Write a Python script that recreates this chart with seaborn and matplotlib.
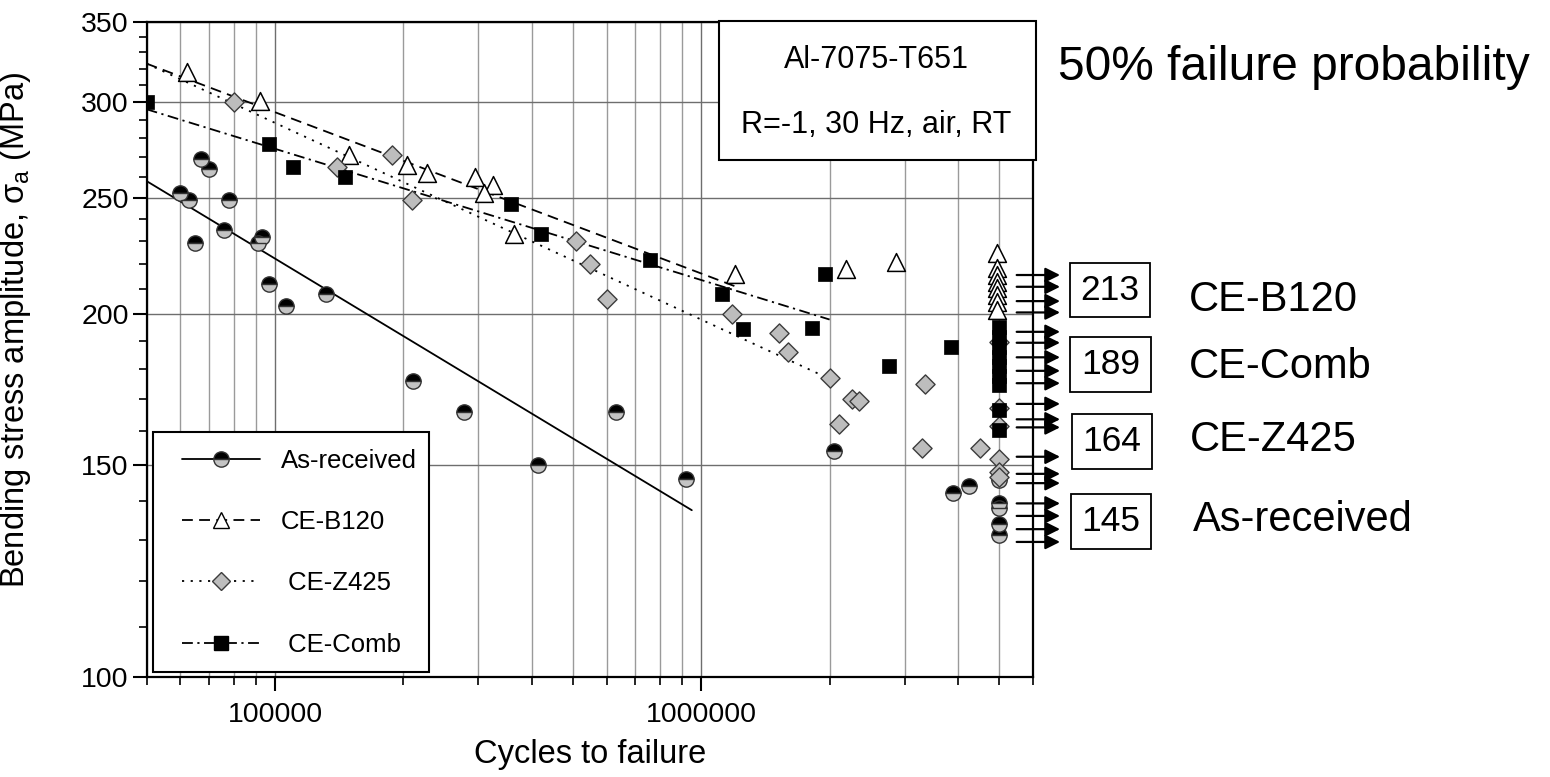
import matplotlib
matplotlib.use('Agg')
import matplotlib.pyplot as plt
import matplotlib.ticker as mticker
import matplotlib.transforms as mtransforms
from matplotlib.lines import Line2D
from matplotlib.patches import Rectangle
import seaborn as sns

# S-N data (cycles to failure, stress amplitude in MPa); runouts sit at 5e6
ar_n = [60000, 63000, 67000, 70000, 65000, 78000, 76000, 93000, 91000, 97000, 106000,
        132000, 211000, 277000, 414000, 632000, 923000, 2050000, 3900000, 4250000,
        5000000, 5000000, 5000000, 5000000, 5000000]
ar_s = [252, 249, 269, 264, 229, 249, 235, 232, 229, 212, 203,
        208, 176, 166, 150, 166, 146, 154, 142, 144,
        145.7, 139.3, 138, 133.9, 131.1]

b120_n = [62000, 92000, 149000, 204000, 227000, 294000, 325000, 310000, 364000,
          1200000, 2180000, 2860000, 4950000,
          4950000, 4950000, 4950000, 4950000, 4950000, 4950000, 4950000]
b120_s = [318, 301, 271, 266, 262, 260, 256, 252, 233,
          216, 218, 221, 225,
          218.5, 215.6, 212.7, 210.3, 207.5, 204.7, 201.6]

z425_n = [80000, 140000, 188000, 210000, 509000, 549000, 600000, 1180000, 1520000,
          1600000, 2000000, 2260000, 2340000, 2100000, 3350000, 3300000, 4500000,
          5000000, 5000000, 5000000, 5000000, 5000000, 5000000]
z425_s = [300, 265, 271, 249, 230, 220, 206, 200, 193,
          186, 177, 170, 169.5, 162, 175, 155, 155,
          189.7, 167.2, 161.5, 151.6, 147.9, 146.5]

comb_n = [50000, 97000, 110000, 146000, 357000, 420000, 760000, 1120000, 1250000,
          1820000, 1950000, 2750000, 3860000,
          5000000, 5000000, 5000000, 5000000, 5000000, 5000000, 5000000, 5000000, 5000000]
comb_s = [300, 277, 265, 260, 247, 233, 222, 208, 194.5,
          195, 216, 181, 188,
          195.2, 191.5, 187.8, 184.3, 181.1, 177.7, 174.7, 166.5, 160.3]

# fitted lines (end points)
fit_ar_n, fit_ar_s = [50000, 950000], [258, 137.5]
fit_b120_n, fit_b120_s = [50000, 1200000], [323, 211]
fit_z425_n, fit_z425_s = [50000, 1950000], [323, 177.5]
fit_comb_n, fit_comb_s = [50000, 2000000], [296, 198]

# runout arrow levels (MPa)
runout_levels = [215.6, 210.8, 205.1, 200.7, 193.4, 189.4, 184.2, 179.5, 175.3,
                 168.5, 163.6, 161.1, 152.3, 147.4, 144.8, 139.3, 136, 132.6, 129.4]

# 50% runout strengths
strength_values = ['213', '189', '164', '145']
strength_names = ['CE-B120', 'CE-Comb', 'CE-Z425', 'As-received']

series_names = ['As-received', 'CE-B120', ' CE-Z425', ' CE-Comb']

sns.set_style('ticks')
plt.rcParams['font.family'] = ['Liberation Sans', 'DejaVu Sans']
plt.rcParams['mathtext.fontset'] = 'custom'
plt.rcParams['mathtext.rm'] = 'Liberation Sans'
plt.rcParams['mathtext.it'] = 'Liberation Sans'
plt.rcParams['mathtext.default'] = 'regular'
for key in ['text.color', 'axes.labelcolor', 'xtick.color', 'ytick.color']:
    plt.rcParams[key] = 'black'

fig = plt.figure(figsize=(15.5, 7.77), dpi=100)
ax = fig.add_axes([0.09465, 0.12909, 0.5718, 0.8430])
ax.set_xscale('log')
ax.set_yscale('log')

dash_b = (0, (6, 3.5))
dot_z = (0, (1.2, 3.6))
dashdot_c = (0, (6, 2.5, 1.2, 2.5))

sns.lineplot(x=fit_ar_n, y=fit_ar_s, ax=ax, color='black', lw=1.3, linestyle='-', zorder=2)
sns.lineplot(x=fit_b120_n, y=fit_b120_s, ax=ax, color='black', lw=1.3, linestyle=dash_b, zorder=2)
sns.lineplot(x=fit_z425_n, y=fit_z425_s, ax=ax, color='black', lw=1.3, linestyle=dot_z, zorder=2)
sns.lineplot(x=fit_comb_n, y=fit_comb_s, ax=ax, color='black', lw=1.3, linestyle=dashdot_c, zorder=2)

ax.plot(ar_n, ar_s, linestyle='none', marker='o', ms=11, fillstyle='top',
        markerfacecolor='black', markerfacecoloralt='#c4c4c4',
        markeredgecolor='#333333', markeredgewidth=1.0, zorder=3)
sns.scatterplot(x=b120_n, y=b120_s, ax=ax, marker='^', s=165, color='white',
                edgecolor='black', linewidth=1.1, zorder=4)
sns.scatterplot(x=z425_n, y=z425_s, ax=ax, marker='D', s=95, color='#bdbdbd',
                edgecolor='#3c3c3c', linewidth=1.0, zorder=5)
sns.scatterplot(x=comb_n, y=comb_s, ax=ax, marker='s', s=95, color='black',
                edgecolor='black', linewidth=0.5, zorder=6)

ax.set_xlim(50000, 6000000)
ax.set_ylim(100, 350)

ax.xaxis.set_major_locator(mticker.FixedLocator([1e5, 1e6]))
ax.xaxis.set_major_formatter(mticker.FixedFormatter(['100000', '1000000']))
ax.xaxis.set_minor_locator(mticker.LogLocator(base=10, subs=[2, 3, 4, 5, 6, 7, 8, 9]))
ax.xaxis.set_minor_formatter(mticker.NullFormatter())
y_major = [100, 150, 200, 250, 300, 350]
ax.yaxis.set_major_locator(mticker.FixedLocator(y_major))
ax.yaxis.set_major_formatter(mticker.FixedFormatter([str(v) for v in y_major]))
ax.yaxis.set_minor_locator(mticker.FixedLocator([v for v in range(110, 350, 10) if v % 50]))
ax.yaxis.set_minor_formatter(mticker.NullFormatter())

ax.tick_params(axis='both', which='major', direction='out', length=10, width=1.5,
               labelsize=20.5, color='black', bottom=True, left=True)
ax.tick_params(axis='both', which='minor', direction='out', length=5.5, width=1.2,
               color='black', bottom=True, left=True)
ax.tick_params(axis='x', which='major', pad=8)
ax.tick_params(axis='y', which='major', pad=3)

ax.grid(True, which='major', color='#6e6e6e', lw=1.0)
ax.xaxis.grid(True, which='minor', color='#9a9a9a', lw=1.0)
ax.set_axisbelow(True)
for sp in ax.spines.values():
    sp.set_visible(True)
    sp.set_linewidth(1.6)
    sp.set_color('black')

ax.set_xlabel('Cycles to failure', fontsize=23.5)
ax.set_ylabel(r'Bending stress amplitude, $\sigma_{a}$ (MPa)', fontsize=23.5)
ax.xaxis.set_label_coords(0.5, -0.095)
ax.yaxis.set_label_coords(-0.128, 0.53)

# runout arrows
trans = mtransforms.blended_transform_factory(ax.transAxes, ax.transData)
for lev in runout_levels:
    ax.annotate('', xy=(1.0305, lev), xycoords=trans, xytext=(0.9816, lev), textcoords=trans,
                arrowprops=dict(arrowstyle='-|>', color='black', lw=1.6, mutation_scale=22,
                                shrinkA=0, shrinkB=0),
                annotation_clip=False, zorder=7)

# material / test condition box
ax.add_patch(Rectangle((0.6457, 0.789), 0.3577, 0.212, transform=ax.transAxes,
                       facecolor='white', edgecolor='black', lw=1.5, clip_on=False, zorder=8))
ax.text(0.8234, 0.9415, 'Al-7075-T651', transform=ax.transAxes, ha='center', va='center',
        fontsize=22, zorder=9)
ax.text(0.8234, 0.8423, 'R=-1, 30 Hz, air, RT', transform=ax.transAxes, ha='center',
        va='center', fontsize=22, zorder=9)

# legend: frame drawn as a patch so the handles can sit further in
ax.add_patch(Rectangle((0.0071, 0.0076), 0.3114, 0.366, transform=ax.transAxes,
                       facecolor='white', edgecolor='black', lw=1.5, zorder=9))
handles = [
    Line2D([], [], color='black', lw=1.3, linestyle='-', marker='o', ms=11, fillstyle='top',
           markerfacecolor='black', markerfacecoloralt='#c4c4c4', markeredgecolor='#333333'),
    Line2D([], [], color='black', lw=1.3, linestyle=dash_b, marker='^', ms=12,
           markerfacecolor='white', markeredgecolor='black'),
    Line2D([], [], color='black', lw=1.3, linestyle=dot_z, marker='D', ms=9.5,
           markerfacecolor='#bdbdbd', markeredgecolor='#3c3c3c'),
    Line2D([], [], color='black', lw=1.3, linestyle=dashdot_c, marker='s', ms=10,
           markerfacecolor='black', markeredgecolor='black'),
]
leg = ax.legend(handles, series_names, loc='upper left', bbox_to_anchor=(0.0395, 0.348),
                borderaxespad=0, fontsize=18.5, frameon=False,
                handlelength=3.05, handletextpad=0.8, labelspacing=1.45, borderpad=0)
leg.set_zorder(10)

# outside annotations
fig.text(1058 / 1550, 1 - 68 / 777, '50% failure probability', fontsize=34.5,
         ha='left', va='center')
box_xy = [(1110, 290), (1110.5, 364.5), (1112, 441.5), (1111, 521.5)]
name_xy = [(1189, 300), (1189, 366.7), (1190, 440), (1193, 520)]
for val, (bx, by) in zip(strength_values, box_xy):
    fig.text(bx / 1550, 1 - by / 777, val, fontsize=25.5, ha='center', va='center',
             bbox=dict(boxstyle='square,pad=0.3', facecolor='white', edgecolor='black', lw=1.3))
for name, (nx, ny) in zip(strength_names, name_xy):
    fig.text(nx / 1550, 1 - ny / 777, name, fontsize=30, ha='left', va='center')

fig.savefig('out.png', dpi=100)
